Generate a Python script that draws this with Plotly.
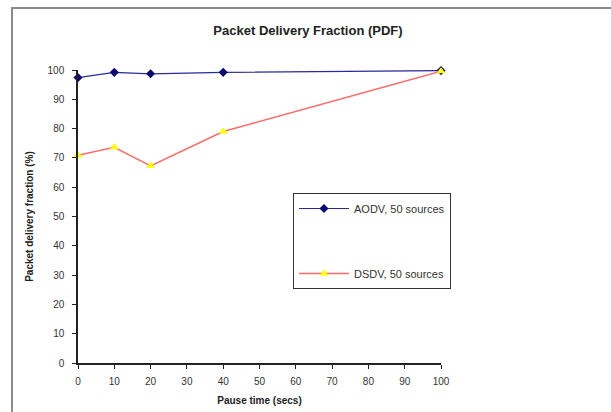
import plotly.graph_objects as go

pause = [0, 10, 20, 40, 100]
aodv = [97.4, 99.2, 98.7, 99.2, 99.8]
dsdv = [70.9, 73.6, 67.3, 79.0, 99.6]
x_ticks = list(range(0, 101, 10))
y_ticks = list(range(0, 101, 10))

L, R, T, B = 78, 441, 70, 363
W, H = 611, 412

fig = go.Figure()
fig.add_trace(go.Scatter(x=pause, y=aodv, mode="lines+markers", name="AODV, 50 sources",
                         legendgroup="a",
                         line=dict(color="#2a2a9a", width=1.2),
                         marker=dict(symbol="diamond", size=7, color="#0a0a70"),
                         cliponaxis=False))
fig.add_trace(go.Scatter(x=pause, y=dsdv, mode="lines+markers", name="DSDV, 50 sources",
                         legendgroup="b",
                         line=dict(color="#ff6a6a", width=1.5),
                         marker=dict(symbol="triangle-up", size=8, color="#ffff00"),
                         cliponaxis=False))

pw, ph = R - L, B - T
fig.add_shape(type="rect", xref="paper", yref="paper",
              x0=(12 - L) / pw, x1=(W + 20 - L) / pw,
              y0=(B - (H + 20)) / ph, y1=(B - 8) / ph,
              line=dict(color="#8a8a8a", width=2), fillcolor="rgba(0,0,0,0)", layer="below")

fig.update_layout(
    width=W, height=H,
    margin=dict(l=L, r=W - R, t=T, b=H - B),
    paper_bgcolor="white", plot_bgcolor="white",
    font=dict(family="Liberation Sans, Arial, sans-serif", size=10, color="#333"),
    title=dict(text="<b>Packet Delivery Fraction (PDF)</b>", x=(308) / W, xanchor="center",
               y=1 - 30 / H, yanchor="middle", font=dict(size=13, color="#222")),
    showlegend=True,
    legend=dict(x=(293 - L) / pw, y=(B - 193) / ph, xanchor="left", yanchor="top",
                bordercolor="#333", borderwidth=1, bgcolor="white",
                tracegroupgap=46, font=dict(size=11, color="#333"),
                itemwidth=50),
)
fig.update_xaxes(range=[0, 100], tickvals=x_ticks, showgrid=False, zeroline=False,
                 showline=True, linecolor="#222", linewidth=1.5, ticks="outside",
                 ticklen=4, tickcolor="#222", ticklabelstandoff=4, automargin=False,
                 title=dict(text="<b>Pause time (secs)</b>", font=dict(size=10, color="#222"), standoff=11))
fig.update_yaxes(range=[0, 100], tickvals=y_ticks, showgrid=False, zeroline=False,
                 showline=True, linecolor="#222", linewidth=1.5, ticks="outside",
                 ticklen=4, tickcolor="#222", ticklabelstandoff=6, automargin=False,
                 title=dict(text="<b>Packet delivery fraction (%)</b>", font=dict(size=10, color="#222"), standoff=12))

fig.write_html("out.html")
